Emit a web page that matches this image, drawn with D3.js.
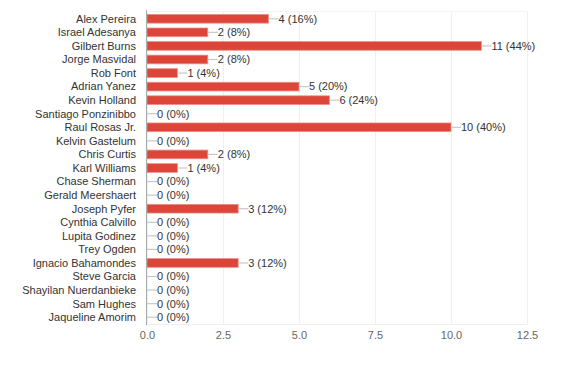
<!DOCTYPE html>
<html>
<head>
<meta charset="utf-8">
<script src="https://cdn.jsdelivr.net/npm/d3@7"></script>
<style>
  body { margin: 0; background: #fff; }
  text { font-family: "Liberation Sans", Arial, sans-serif; }
</style>
</head>
<body>
<div id="chart"></div>
<script>
// data
var names = ["Alex Pereira", "Israel Adesanya", "Gilbert Burns", "Jorge Masvidal", "Rob Font",
    "Adrian Yanez", "Kevin Holland", "Santiago Ponzinibbo", "Raul Rosas Jr.", "Kelvin Gastelum",
    "Chris Curtis", "Karl Williams", "Chase Sherman", "Gerald Meershaert", "Joseph Pyfer",
    "Cynthia Calvillo", "Lupita Godinez", "Trey Ogden", "Ignacio Bahamondes", "Steve Garcia",
    "Shayilan Nuerdanbieke", "Sam Hughes", "Jaqueline Amorim"];
var votes = [4, 2, 11, 2, 1, 5, 6, 0, 10, 0, 2, 1, 0, 0, 3, 0, 0, 0, 3, 0, 0, 0, 0];
var respondents = 25; // percentages are of respondents (4 -> 16%)
var ticks = [0, 2.5, 5, 7.5, 10, 12.5];

var rows = names.map(function(n, i) { return {name: n, value: votes[i]}; });

var margin = {top: 12, right: 58, bottom: 45, left: 147};
var W = 585, H = 369;
var width = W - margin.left - margin.right,
    height = H - margin.top - margin.bottom;

var svg = d3.select("#chart").append("svg")
    .attr("width", W)
    .attr("height", H)
    .append("g")
    .attr("transform", "translate(" + margin.left + "," + margin.top + ")");

var x = d3.scaleLinear().domain([0, 12.5]).range([0, width]);
var y = d3.scaleBand().domain(names).range([0, height]).paddingInner(0.36).paddingOuter(0.18);

// grid
svg.append("g").selectAll("line")
    .data(ticks)
    .enter().append("line")
    .attr("x1", function(d) { return Math.round(x(d)) + 0.5; })
    .attr("x2", function(d) { return Math.round(x(d)) + 0.5; })
    .attr("y1", 0)
    .attr("y2", height)
    .style("stroke", "#efefef");
svg.append("line")
    .attr("x1", 0).attr("x2", width)
    .attr("y1", height + 0.5).attr("y2", height + 0.5)
    .style("stroke", "#efefef");
svg.append("line")
    .attr("x1", 0).attr("x2", width)
    .attr("y1", -0.5).attr("y2", -0.5)
    .style("stroke", "#f4f4f4");

// x tick labels
svg.append("g")
    .attr("transform", "translate(0," + height + ")")
    .call(d3.axisBottom(x).tickValues(ticks).tickFormat(d3.format(".1f")).tickSize(0).tickPadding(7))
    .call(function(g) { g.select(".domain").remove(); })
    .selectAll("text")
    .style("font-size", "11px")
    .style("fill", "#666");

// bars
var bar = svg.selectAll(".bar")
    .data(rows)
    .enter().append("g")
    .attr("class", "bar");

bar.append("rect")
    .attr("x", 0)
    .attr("y", function(d) { return y(d.name); })
    .attr("width", function(d) { return x(d.value); })
    .attr("height", y.bandwidth())
    .style("fill", "#dc4538")
    .style("stroke", function(d) { return d.value > 0 ? "#eb8f86" : "none"; })
    .style("stroke-width", 0.8);

// leader line + value label
bar.append("line")
    .attr("x1", function(d) { return x(d.value); })
    .attr("x2", function(d) { return x(d.value) + 10; })
    .attr("y1", function(d) { return y(d.name) + y.bandwidth() / 2; })
    .attr("y2", function(d) { return y(d.name) + y.bandwidth() / 2; })
    .style("stroke", "#c8c8c8")
    .style("stroke-width", 1.2);

bar.append("text")
    .attr("x", function(d) { return x(d.value) + 10; })
    .attr("y", function(d) { return y(d.name) + y.bandwidth() / 2; })
    .attr("dy", "0.35em")
    .style("font-size", "11px")
    .style("fill", "#333")
    .text(function(d) { return d.value + " (" + Math.round(d.value / respondents * 100) + "%)"; });

// y axis
svg.append("line")
    .attr("x1", -0.5).attr("x2", -0.5)
    .attr("y1", -2).attr("y2", height + 1)
    .style("stroke", "#aaa");

svg.append("g").selectAll("text")
    .data(rows)
    .enter().append("text")
    .attr("x", -11)
    .attr("y", function(d) { return y(d.name) + y.bandwidth() / 2; })
    .attr("dy", "0.35em")
    .attr("text-anchor", "end")
    .style("font-size", "11px")
    .style("fill", "#333")
    .text(function(d) { return d.name; });
</script>
</body>
</html>
